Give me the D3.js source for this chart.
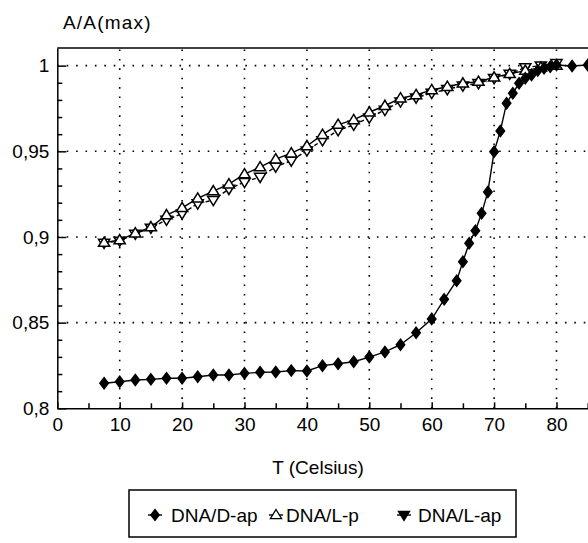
<!DOCTYPE html>
<html>
<head>
<meta charset="utf-8">
<script src="https://cdn.jsdelivr.net/npm/d3@7/dist/d3.min.js"></script>
<style>
    body { margin: 0; background: #fff; }
    svg { display: block; font-family: "Liberation Sans", Arial, sans-serif; }
</style>
</head>
<body>
<div id="meltChart"></div>
<script>

// temperatures for the two L series (every 2.5 C)
var lTemps = [7.5, 10, 12.5, 15, 17.5, 20, 22.5, 25, 27.5, 30, 32.5, 35, 37.5, 40, 42.5, 45,
    47.5, 50, 52.5, 55, 57.5, 60, 62.5, 65, 67.5, 70, 72.5, 75, 77.5, 80];
var lpValues = [0.8967, 0.8982, 0.9022, 0.9058, 0.9128, 0.9170, 0.9225, 0.9268, 0.9308, 0.9367,
    0.9408, 0.9454, 0.9489, 0.9531, 0.9597, 0.9656, 0.9683, 0.9728, 0.9766, 0.9810,
    0.9829, 0.9858, 0.9877, 0.9897, 0.9907, 0.9932, 0.9952, 0.9971, 0.9990, 1.0000];
var lapValues = [0.8965, 0.8977, 0.9018, 0.9053, 0.9100, 0.9136, 0.9195, 0.9215, 0.9280, 0.9320,
    0.9350, 0.9410, 0.9445, 0.9504, 0.9564, 0.9622, 0.9654, 0.9696, 0.9741, 0.9790,
    0.9813, 0.9840, 0.9862, 0.9883, 0.9897, 0.9926, 0.9952, 0.9990, 1.0000, 1.0014];

// DNA/D-ap is sampled tighter around the transition
var dapTemps = [7.5, 10, 12.5, 15, 17.5, 20, 22.5, 25, 27.5, 30, 32.5, 35, 37.5, 40, 42.5, 45,
    47.5, 50, 52.5, 55, 57.5, 60, 62, 64, 65, 66, 67, 68, 69, 70, 71, 72, 73, 74, 75, 76,
    77, 78, 79, 80, 82.5, 85];
var dapValues = [0.8146, 0.8155, 0.8165, 0.8169, 0.8175, 0.8175, 0.8184, 0.8194, 0.8194, 0.8204,
    0.8210, 0.8212, 0.8220, 0.8218, 0.8249, 0.8260, 0.8272, 0.8299, 0.8329, 0.8371,
    0.8441, 0.8521, 0.8636, 0.8745, 0.8856, 0.8963, 0.9037, 0.9138, 0.9263, 0.9498,
    0.9619, 0.9781, 0.9839, 0.9897, 0.9926, 0.9946, 0.9971, 0.9985, 0.9994, 1.0004,
    0.9998, 1.0004];

var xMajorTicks = [0, 10, 20, 30, 40, 50, 60, 70, 80];
var xMinorTicks = [5, 15, 25, 35, 45, 55, 65, 75, 85];
var yMajorTicks = [0.8, 0.85, 0.9, 0.95, 1];
var yMinorTicks = [0.81, 0.82, 0.83, 0.84, 0.86, 0.87, 0.88, 0.89, 0.91, 0.92, 0.93, 0.94,
    0.96, 0.97, 0.98, 0.99];
var seriesNames = ["DNA/D-ap", "DNA/L-p", "DNA/L-ap"];

var width = 588, height = 543;
var plot = {left: 57.3, right: 587.7, top: 48, bottom: 408.3};

var svg = d3.select("#meltChart").append("svg")
    .attr("width", width)
    .attr("height", height);

var x = d3.scaleLinear().domain([0, 85]).range([plot.left, plot.right]);
var y = d3.scaleLinear().domain([0.8, 1.0103]).range([plot.bottom, plot.top]);

/**
 * comma as decimal mark, like the original
 * @param d
 * @returns {string}
 */
var fmt = function(d){
    return String(+d.toFixed(2)).replace(".", ",");
};

// dotted grid
var grid = svg.append("g").attr("class", "grid")
    .style("stroke", "#000").style("stroke-width", 1.6).style("stroke-dasharray", "1.6,7.8");
grid.selectAll("line.v").data(xMajorTicks.slice(1)).enter().append("line")
    .attr("class", "v")
    .attr("x1", function(d){ return x(d); }).attr("x2", function(d){ return x(d); })
    .attr("y1", plot.bottom).attr("y2", plot.top);
grid.selectAll("line.h").data(yMajorTicks.slice(1)).enter().append("line")
    .attr("class", "h")
    .attr("x1", plot.left).attr("x2", plot.right)
    .attr("y1", function(d){ return y(d); }).attr("y2", function(d){ return y(d); });

// y axis, ticks pointing inward
var yAxis = d3.axisLeft(y).tickValues(yMajorTicks).tickSizeInner(-9).tickSizeOuter(0)
    .tickPadding(8).tickFormat(fmt);
var yAxisGroup = svg.append("g").attr("transform", "translate(" + plot.left + ",0)").call(yAxis);
var yMinorGroup = svg.append("g").attr("transform", "translate(" + plot.left + ",0)")
    .call(d3.axisLeft(y).tickValues(yMinorTicks).tickSizeInner(-5).tickSizeOuter(0).tickFormat(""));
yMinorGroup.select(".domain").remove();

var xAxis = d3.axisBottom(x).tickValues(xMajorTicks).tickSizeInner(-6).tickSizeOuter(0)
    .tickPadding(9).tickFormat(function(d){ return d; });
var xAxisGroup = svg.append("g").attr("transform", "translate(0," + plot.bottom + ")").call(xAxis);
var xMinorGroup = svg.append("g").attr("transform", "translate(0," + plot.bottom + ")")
    .call(d3.axisBottom(x).tickValues(xMinorTicks).tickSizeInner(-5).tickSizeOuter(0).tickFormat(""));
xMinorGroup.select(".domain").remove();

[yAxisGroup, yMinorGroup, xAxisGroup, xMinorGroup].forEach(function(g){
    g.selectAll("path, line").style("stroke", "#000").style("stroke-width", 1.5);
    g.selectAll("text").style("font-size", "19px").style("fill", "#000")
        .style("font-family", "'Liberation Sans', Arial, sans-serif");
});

// top frame line
svg.append("line")
    .attr("x1", plot.left).attr("x2", width)
    .attr("y1", plot.top).attr("y2", plot.top)
    .style("stroke", "#000").style("stroke-width", 1.5);

svg.append("text").attr("x", 63).attr("y", 29)
    .style("font-size", "19px").style("letter-spacing", "1.2px").text("A/A(max)");
svg.append("text").attr("x", 318).attr("y", 474).attr("text-anchor", "middle")
    .style("font-size", "19px").text("T (Celsius)");

/**
 * marker path for each series
 * @param kind
 * @returns {string}
 */
var markerPath = function(kind){
    if(kind === "diamond") return "M0,-5.5L4.2,0L0,5.5L-4.2,0Z";
    if(kind === "up") return "M0,-5.5L5.6,3.7L-5.6,3.7Z";
    return "M0,5.5L5.6,-3.7L-5.6,-3.7Z";
};

var series = [
    {name: seriesNames[2], t: lTemps, v: lapValues, kind: "down", fill: "#fff", dash: "4,2.5"},
    {name: seriesNames[1], t: lTemps, v: lpValues, kind: "up", fill: "#fff", dash: null},
    {name: seriesNames[0], t: dapTemps, v: dapValues, kind: "diamond", fill: "#000", dash: null}
];

var line = d3.line()
    .x(function(d){ return x(d.t); })
    .y(function(d){ return y(d.v); });

series.forEach(function(s){
    var pts = s.t.map(function(t, i){ return {t: t, v: s.v[i]}; });
    svg.append("path").datum(pts)
        .attr("d", line)
        .style("fill", "none").style("stroke", "#000").style("stroke-width", 1.4)
        .style("stroke-dasharray", s.dash);
    svg.append("g").selectAll("path").data(pts).enter().append("path")
        .attr("transform", function(d){ return "translate(" + x(d.t) + "," + y(d.v) + ")"; })
        .attr("d", markerPath(s.kind))
        .style("fill", s.fill).style("stroke", "#000").style("stroke-width", 1.5);
});

// legend box
var legend = svg.append("g").attr("class", "legend");
legend.append("rect").attr("x", 129).attr("y", 490).attr("width", 387).attr("height", 47)
    .style("fill", "#fff").style("stroke", "#000").style("stroke-width", 1.5);

var legendItems = [
    {name: seriesNames[0], kind: "diamond", fill: "#000", cx: 155, tx: 171},
    {name: seriesNames[1], kind: "up", fill: "#fff", cx: 276, tx: 286},
    {name: seriesNames[2], kind: "down", fill: "#000", cx: 404, tx: 418}
];
legendItems.forEach(function(item){
    legend.append("line").attr("x1", item.cx - 7).attr("x2", item.cx + 7)
        .attr("y1", 515).attr("y2", 515)
        .style("stroke", "#000").style("stroke-width", 1.4);
    legend.append("path").attr("transform", "translate(" + item.cx + ",515)")
        .attr("d", markerPath(item.kind))
        .style("fill", item.fill).style("stroke", "#000").style("stroke-width", 1.3);
    legend.append("text").attr("x", item.tx).attr("y", 522)
        .style("font-size", "19px").text(item.name);
});

</script>
</body>
</html>
